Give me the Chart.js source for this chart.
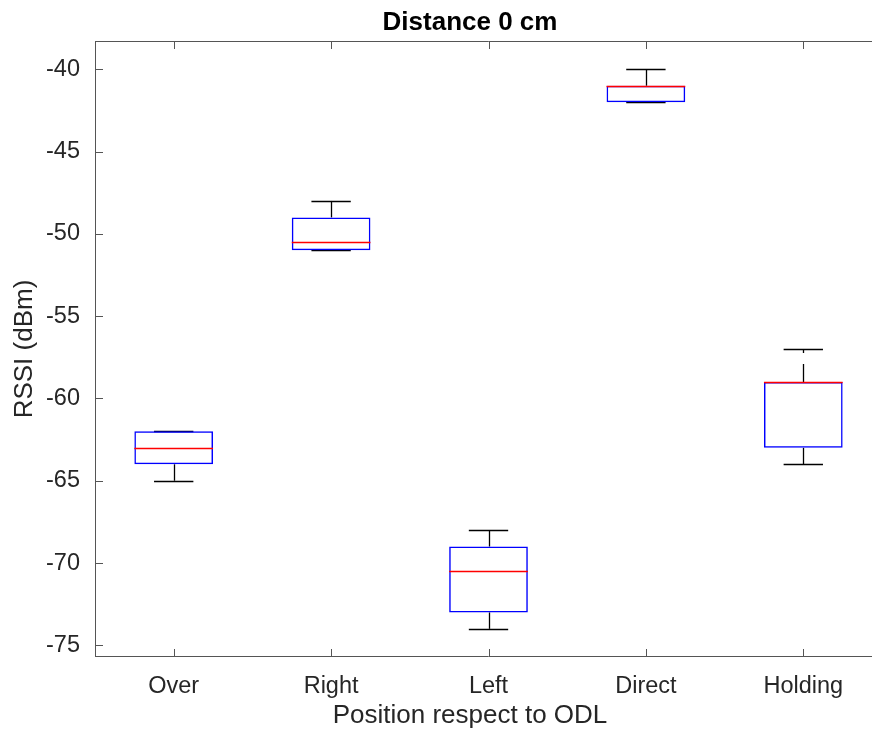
<!DOCTYPE html>
<html>
<head>
<meta charset="utf-8">
<script src="https://cdn.jsdelivr.net/npm/chart.js@4.4.1/dist/chart.umd.min.js"></script>
<style>
  html, body { margin: 0; padding: 0; background: #fff; overflow: hidden; }
  #wrap { width: 872px; height: 731px; overflow: hidden; }
  #wrap canvas { display: block; }
</style>
</head>
<body>
<div id="wrap"><canvas id="box" width="940" height="731"></canvas></div>
<script>
// Box plot values (RSSI in dBm)
const positions = ['Over', 'Right', 'Left', 'Direct', 'Holding'];
const whiskerLow  = [-65, -51, -74, -42, -64];
const quartile1   = [-64, -51, -73, -42, -63];
const medians     = [-63, -50.5, -70.5, -41, -59];
const quartile3   = [-62, -49, -69, -41, -59];
const whiskerHigh = [-62, -48, -68, -40, -57];

const yTicks = [-75, -70, -65, -60, -55, -50, -45, -40];

const FONT = '"Liberation Sans", Arial, Helvetica, sans-serif';
const AXIS_COLOR = '#262626';

// whiskers + caps go under the boxes, medians on top, ticks drawn inward like MATLAB
const boxPlotPlugin = {
  id: 'boxPlotParts',
  beforeDatasetsDraw(chart) {
    const { ctx, scales: { x, y } } = chart;
    ctx.save();
    ctx.strokeStyle = '#000';
    ctx.lineWidth = 1.3;
    positions.forEach((p, i) => {
      const cx = Math.round(x.getPixelForValue(i)) + 0.5;
      // dashed whisker lines, dash starts at the box edge
      ctx.setLineDash([18, 11]);
      [[quartile3[i], whiskerHigh[i]], [quartile1[i], whiskerLow[i]]].forEach(([from, to]) => {
        if (from === to) return;
        ctx.beginPath();
        ctx.moveTo(cx, y.getPixelForValue(from));
        ctx.lineTo(cx, y.getPixelForValue(to));
        ctx.stroke();
      });
      ctx.setLineDash([]);
      const l = x.getPixelForValue(i - 0.125), r = x.getPixelForValue(i + 0.125);
      [whiskerHigh[i], whiskerLow[i]].forEach(v => {
        const yy = Math.round(y.getPixelForValue(v)) + 0.5;
        ctx.beginPath();
        ctx.moveTo(l, yy);
        ctx.lineTo(r, yy);
        ctx.stroke();
      });
    });
    ctx.restore();
  },
  afterDatasetsDraw(chart) {
    const { ctx, scales: { x, y } } = chart;
    ctx.save();
    ctx.strokeStyle = '#ff0000';
    ctx.lineWidth = 1.5;
    medians.forEach((m, i) => {
      const yy = Math.round(y.getPixelForValue(m)) + 0.5;
      ctx.beginPath();
      ctx.moveTo(x.getPixelForValue(i - 0.25), yy);
      ctx.lineTo(x.getPixelForValue(i + 0.25), yy);
      ctx.stroke();
    });
    ctx.restore();
  },
  afterDraw(chart) {
    const { ctx, chartArea: a, scales: { x, y } } = chart;
    const tl = 8;
    ctx.save();
    ctx.strokeStyle = '#555';
    ctx.lineWidth = 1;
    ctx.beginPath();
    // axes box: left, bottom, top (right edge falls outside the picture)
    ctx.moveTo(a.left + 0.5, a.top + 0.5);
    ctx.lineTo(a.right, a.top + 0.5);
    ctx.moveTo(a.left + 0.5, a.top);
    ctx.lineTo(a.left + 0.5, a.bottom);
    ctx.moveTo(a.left, a.bottom - 0.5);
    ctx.lineTo(a.right, a.bottom - 0.5);
    yTicks.forEach(v => {
      const yy = Math.round(y.getPixelForValue(v)) + 0.5;
      ctx.moveTo(a.left, yy);
      ctx.lineTo(a.left + tl, yy);
    });
    positions.forEach((p, i) => {
      const xx = Math.round(x.getPixelForValue(i)) + 0.5;
      ctx.moveTo(xx, a.bottom);
      ctx.lineTo(xx, a.bottom - tl);
      ctx.moveTo(xx, a.top);
      ctx.lineTo(xx, a.top + tl);
    });
    ctx.stroke();
    ctx.restore();
  }
};

new Chart(document.getElementById('box'), {
  type: 'bar',
  data: {
    labels: positions,
    datasets: [{
      data: positions.map((p, i) => [quartile1[i], quartile3[i]]),
      backgroundColor: 'rgba(0,0,0,0)',
      borderColor: '#0000ff',
      borderWidth: 1.5,
      borderSkipped: false,
      categoryPercentage: 1,
      barPercentage: 0.5
    }]
  },
  options: {
    responsive: false,
    animation: false,
    layout: { padding: 0 },
    plugins: {
      legend: { display: false },
      tooltip: { enabled: false },
      title: {
        display: true,
        text: 'Distance 0 cm',
        color: '#000',
        font: { family: FONT, size: 26, weight: 'bold', lineHeight: 1 },
        padding: { top: 10, bottom: 5 }
      },
      subtitle: {
        display: true,
        position: 'bottom',
        text: 'Position respect to ODL',
        color: AXIS_COLOR,
        font: { family: FONT, size: 26, lineHeight: 1 },
        padding: { top: 0, bottom: 2 }
      }
    },
    scales: {
      x: {
        type: 'category',
        offset: true,
        grid: { display: false, drawTicks: false },
        border: { display: false },
        ticks: { color: AXIS_COLOR, font: { family: FONT, size: 23.5 }, padding: 15, maxRotation: 0 },
        afterFit(scale) { scale.height = 46; }
      },
      y: {
        min: -75.71,
        max: -38.28,
        grid: { display: false, drawTicks: false },
        border: { display: false },
        afterBuildTicks(scale) { scale.ticks = yTicks.map(v => ({ value: v })); },
        ticks: { color: AXIS_COLOR, font: { family: FONT, size: 23.5 }, padding: 15 },
        title: {
          display: true,
          text: 'RSSI (dBm)',
          color: AXIS_COLOR,
          font: { family: FONT, size: 26, lineHeight: 1 },
          padding: { top: 12, bottom: 0 }
        },
        afterFit(scale) { scale.width = 95; }
      },
      // empty right-hand axis, only reserves the strip past the cropped right edge
      yRight: {
        position: 'right',
        grid: { display: false, drawTicks: false },
        border: { display: false },
        ticks: { display: false },
        afterFit(scale) { scale.width = 58; }
      }
    }
  },
  plugins: [boxPlotPlugin]
});
</script>
</body>
</html>
